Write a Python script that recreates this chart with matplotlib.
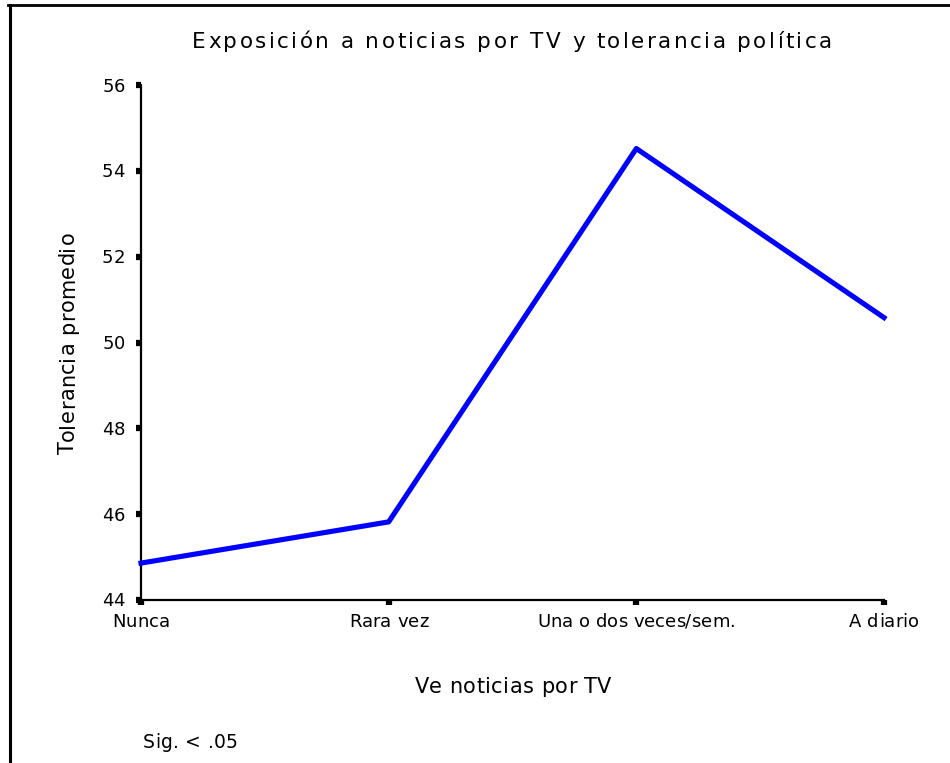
import matplotlib

matplotlib.use("Agg")
import matplotlib.pyplot as plt
from matplotlib.font_manager import FontProperties
from matplotlib.lines import Line2D
from matplotlib.transforms import IdentityTransform

categories = ["Nunca", "Rara vez", "Una o dos veces/sem.", "A diario"]
tolerance = [44.86, 45.82, 54.52, 50.58]
y_ticks = [44, 46, 48, 50, 52, 54, 56]

W, H = 950, 763
FAMILY = ["DejaVu Sans"]
plt.rcParams["font.family"] = FAMILY

fig = plt.figure(figsize=(W / 100, H / 100), dpi=100)
ax = fig.add_axes([141 / W, 1 - 600 / H, (884 - 141) / W, (600 - 85) / H])
renderer = fig.canvas.get_renderer()


def _advance(ch, prop):
    w2 = renderer.get_text_width_height_descent("||", prop, ismath=False)[0]
    w3 = renderer.get_text_width_height_descent("|" + ch + "|", prop, ismath=False)[0]
    return w3 - w2


def spaced_text(x, y, s, size, spacing=0.0, ha="left", rotation=0, width=None):
    """Letter-spaced text; x, y in pixels from the bottom-left, y is the baseline.
    If width is given the spacing is chosen so the text fills that many pixels."""
    prop = FontProperties(family=FAMILY, size=size)
    widths = [_advance(ch, prop) for ch in s]
    if width is not None:
        spacing = (width - sum(widths)) / max(len(s) - 1, 1)
    total = sum(widths) + spacing * (len(s) - 1)
    pos = -{"left": 0, "center": total / 2, "right": total}[ha]
    for ch, w in zip(s, widths):
        tx, ty = (x, y + pos) if rotation == 90 else (x + pos, y)
        fig.text(tx, ty, ch, fontproperties=prop, transform=IdentityTransform(),
                 ha="left", va="baseline", rotation=rotation, rotation_mode="anchor")
        pos += w + spacing


x = list(range(len(categories)))
ax.plot(x, tolerance, color="#0000ff", lw=3.7, clip_on=False, zorder=3)

ax.set_xlim(0, len(categories) - 1)
ax.set_ylim(44, 56)
ax.set_xticks(x)
ax.set_yticks(y_ticks)
ax.set_xticklabels([])
ax.set_yticklabels([])
ax.tick_params(axis="both", direction="out", length=3.5, width=4.5)

for side in ("top", "right"):
    ax.spines[side].set_visible(False)
for side in ("left", "bottom"):
    ax.spines[side].set_linewidth(1.6)

for v in y_ticks:
    py = ax.transData.transform((0, v))[1]
    spaced_text(125, py - 6.5, str(v), 13, 0.0, ha="right")
for i, cat in enumerate(categories):
    px = ax.transData.transform((i, 44))[0]
    spaced_text(px, H - 627, cat, 13, 0.0, ha="center")

spaced_text(512, H - 48, "Exposición a noticias por TV y tolerancia política", 15.5,
            ha="center", width=640)
spaced_text(513, H - 693, "Ve noticias por TV", 15, ha="center", width=197)
spaced_text(74, H - 343, "Tolerancia promedio", 15, ha="center", rotation=90, width=223)
spaced_text(143, H - 748, "Sig. < .05", 13.5, 0.3, ha="left")

# frame lines around the chart (left and top only are visible in the original)
fig.add_artist(Line2D([9.5 / W, 9.5 / W], [0, 1 - 5 / H], color="black", lw=2.2,
                      transform=fig.transFigure))
fig.add_artist(Line2D([8 / W, 1], [1 - 5 / H, 1 - 5 / H], color="black", lw=2,
                      transform=fig.transFigure))

fig.savefig("out.png", dpi=100)
